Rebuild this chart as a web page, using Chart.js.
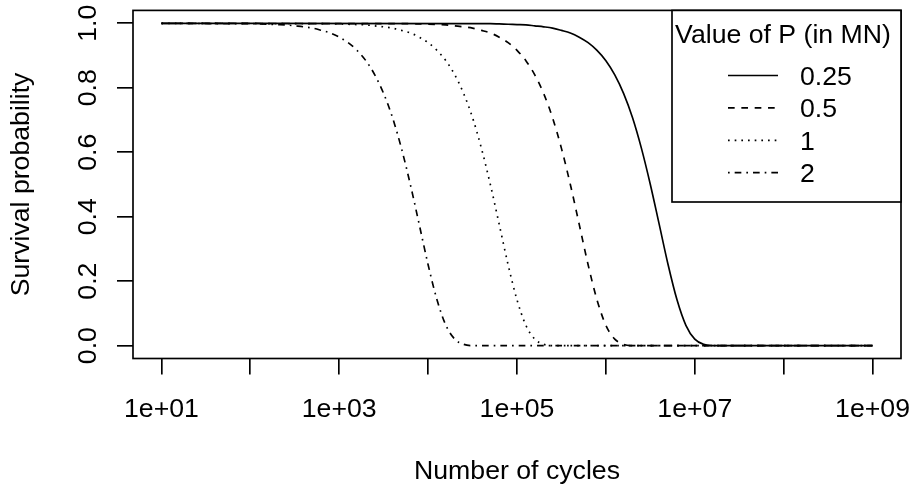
<!DOCTYPE html>
<html>
<head>
<meta charset="utf-8">
<script src="https://cdn.jsdelivr.net/npm/chart.js@4.4.0/dist/chart.umd.min.js"></script>
<style>
  html, body { margin: 0; padding: 0; background: #fff; }
  canvas { display: block; }
</style>
</head>
<body>
<canvas id="survival" width="912" height="489"></canvas>
<script>
// log10(number of cycles) and survival probability
const logCyclesP025 = [1, 4.5, 4.6, 4.7, 4.8, 4.9, 5.0, 5.1, 5.2, 5.3, 5.4, 5.5, 5.6, 5.7, 5.8, 5.9, 6.0, 6.1, 6.2, 6.3, 6.4, 6.5, 6.6, 6.7, 6.8, 6.9, 7.0, 7.1, 7.2, 9];
const survivalP025 = [1, 0.999, 0.999, 0.999, 0.998, 0.997, 0.996, 0.995, 0.992, 0.989, 0.985, 0.978, 0.970, 0.957, 0.940, 0.916, 0.884, 0.840, 0.782, 0.707, 0.612, 0.500, 0.376, 0.251, 0.142, 0.063, 0.020, 0.004, 0.000, 0];

const logCyclesP05 = [1, 3.6, 3.7, 3.8, 3.9, 4.0, 4.1, 4.2, 4.3, 4.4, 4.5, 4.6, 4.7, 4.8, 4.9, 5.0, 5.1, 5.2, 5.3, 5.4, 5.5, 5.6, 5.7, 5.8, 5.9, 6.0, 6.1, 6.2, 6.3, 9];
const survivalP05 = [1, 0.999, 0.999, 0.999, 0.998, 0.997, 0.996, 0.995, 0.992, 0.989, 0.985, 0.978, 0.970, 0.957, 0.940, 0.916, 0.884, 0.840, 0.782, 0.707, 0.612, 0.500, 0.376, 0.251, 0.142, 0.063, 0.020, 0.004, 0.000, 0];

const logCyclesP1 = [1, 2.7, 2.8, 2.9, 3.0, 3.1, 3.2, 3.3, 3.4, 3.5, 3.6, 3.7, 3.8, 3.9, 4.0, 4.1, 4.2, 4.3, 4.4, 4.5, 4.6, 4.7, 4.8, 4.9, 5.0, 5.1, 5.2, 5.3, 5.4, 9];
const survivalP1 = [1, 0.999, 0.999, 0.999, 0.998, 0.997, 0.996, 0.995, 0.992, 0.989, 0.985, 0.978, 0.970, 0.957, 0.940, 0.916, 0.884, 0.840, 0.782, 0.707, 0.612, 0.500, 0.376, 0.251, 0.142, 0.063, 0.020, 0.004, 0.000, 0];

const logCyclesP2 = [1, 1.8, 1.9, 2.0, 2.1, 2.2, 2.3, 2.4, 2.5, 2.6, 2.7, 2.8, 2.9, 3.0, 3.1, 3.2, 3.3, 3.4, 3.5, 3.6, 3.7, 3.8, 3.9, 4.0, 4.1, 4.2, 4.3, 4.4, 4.5, 9];
const survivalP2 = [1, 0.999, 0.999, 0.999, 0.998, 0.997, 0.996, 0.995, 0.992, 0.989, 0.985, 0.978, 0.970, 0.957, 0.940, 0.916, 0.884, 0.840, 0.782, 0.707, 0.612, 0.500, 0.376, 0.251, 0.142, 0.063, 0.020, 0.004, 0.000, 0];

const seriesLabels = ["0.25", "0.5", "1", "2"];
const legendTitle = "Value of P (in MN)";
const xTitle = "Number of cycles";
const yTitle = "Survival probability";

const xTickValues = [1e1, 1e2, 1e3, 1e4, 1e5, 1e6, 1e7, 1e8, 1e9];
const xTickLabels = ["1e+01", "", "1e+03", "", "1e+05", "", "1e+07", "", "1e+09"];
const yTickValues = [0, 0.2, 0.4, 0.6, 0.8, 1.0];
const yTickLabels = ["0.0", "0.2", "0.4", "0.6", "0.8", "1.0"];

const FONT = '26.67px "Liberation Sans", Arial, Helvetica, sans-serif';
const LW = 1.67;

function toPoints(logs, surv) {
    return logs.map((l, i) => ({ x: Math.pow(10, l), y: surv[i] }));
}

const lineStyles = [[], [6.67, 6.67], [1.67, 5], [1.67, 5, 6.67, 5]];
const seriesData = [
    toPoints(logCyclesP025, survivalP025),
    toPoints(logCyclesP05, survivalP05),
    toPoints(logCyclesP1, survivalP1),
    toPoints(logCyclesP2, survivalP2)
];

// R-style box, tick labels, axis titles and legend
const rStylePlugin = {
    id: "rStyle",
    afterDraw(chart) {
        const { ctx, chartArea: a, scales } = chart;
        const x = scales.x, y = scales.y;
        ctx.save();
        ctx.strokeStyle = "#000";
        ctx.fillStyle = "#000";
        ctx.lineWidth = LW;
        ctx.setLineDash([]);
        ctx.strokeRect(a.left, a.top, a.right - a.left, a.bottom - a.top);

        ctx.font = FONT;
        ctx.textAlign = "center";
        ctx.textBaseline = "alphabetic";
        xTickValues.forEach((v, i) => {
            if (xTickLabels[i]) ctx.fillText(xTickLabels[i], x.getPixelForValue(v), a.bottom + 58.5);
        });
        ctx.fillText(xTitle, (a.left + a.right) / 2, a.bottom + 120.5);

        yTickValues.forEach((v, i) => {
            ctx.save();
            ctx.translate(95.5, y.getPixelForValue(v));
            ctx.rotate(-Math.PI / 2);
            ctx.fillText(yTickLabels[i], 0, 0);
            ctx.restore();
        });
        ctx.save();
        ctx.translate(29, (a.top + a.bottom) / 2);
        ctx.rotate(-Math.PI / 2);
        ctx.fillText(yTitle, 0, 0);
        ctx.restore();

        // legend
        const boxLeft = a.right - 229;
        const boxBottom = 202;
        ctx.fillStyle = "#fff";
        ctx.fillRect(boxLeft, a.top, a.right - boxLeft, boxBottom - a.top);
        ctx.fillStyle = "#000";
        ctx.strokeRect(boxLeft, a.top, a.right - boxLeft, boxBottom - a.top);
        ctx.fillText(legendTitle, boxLeft + 111, 42.5);
        ctx.textAlign = "left";
        chart.data.datasets.forEach((ds, i) => {
            const cy = 75.5 + i * 32.4;
            ctx.setLineDash(ds.borderDash || []);
            ctx.beginPath();
            ctx.moveTo(boxLeft + 56, cy);
            ctx.lineTo(boxLeft + 106, cy);
            ctx.stroke();
            ctx.setLineDash([]);
            ctx.fillText(ds.label, boxLeft + 128, cy + 9.5);
        });
        ctx.restore();
    }
};

new Chart(document.getElementById("survival"), {
    type: "line",
    data: {
        datasets: seriesData.map((pts, i) => ({
            label: seriesLabels[i],
            data: pts,
            borderColor: "#000",
            borderWidth: LW,
            borderDash: lineStyles[i],
            pointRadius: 0,
            fill: false,
            cubicInterpolationMode: "monotone"
        }))
    },
    options: {
        responsive: false,
        animation: false,
        devicePixelRatio: 1,
        layout: { padding: { left: 0, right: 11, top: 10.4, bottom: 0 } },
        plugins: { legend: { display: false }, tooltip: { enabled: false } },
        scales: {
            x: {
                type: "logarithmic",
                position: "bottom",
                min: Math.pow(10, 0.68),
                max: Math.pow(10, 9.32),
                bounds: "data",
                afterBuildTicks: s => { s.ticks = xTickValues.map(v => ({ value: v })); },
                afterFit: s => { s.height = 130.5; },
                ticks: { display: false },
                border: { display: false },
                grid: { drawOnChartArea: false, drawTicks: true, tickLength: 16, color: "#000", lineWidth: LW }
            },
            y: {
                type: "linear",
                min: -0.04,
                max: 1.04,
                bounds: "data",
                afterBuildTicks: s => { s.ticks = yTickValues.map(v => ({ value: v })); },
                afterFit: s => { s.width = 133; },
                ticks: { display: false },
                border: { display: false },
                grid: { drawOnChartArea: false, drawTicks: true, tickLength: 16, color: "#000", lineWidth: LW }
            }
        }
    },
    plugins: [rStylePlugin]
});
</script>
</body>
</html>
